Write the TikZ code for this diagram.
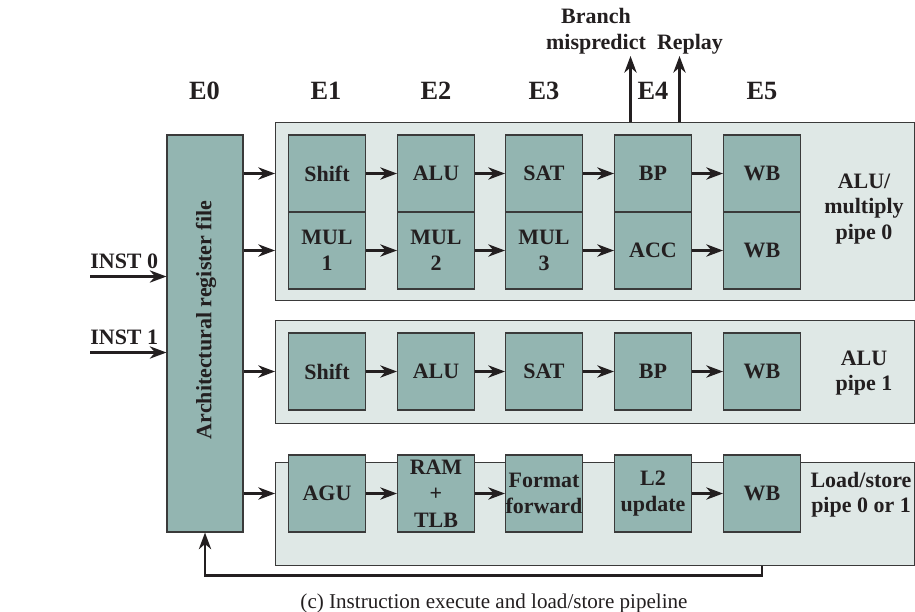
\documentclass[tikz,border=0pt]{standalone}
\usepackage{fontspec}
\setmainfont{Liberation Serif}
\usetikzlibrary{arrows.meta,positioning}
\definecolor{ink}{HTML}{231F20}
\definecolor{edge}{HTML}{3A3A3A}
\definecolor{sage}{HTML}{93B5B1}
\definecolor{mist}{HTML}{DFE8E6}

\begin{document}
\begin{tikzpicture}[x=0.2mm,y=-0.2mm,
          every node/.style={font=\fontsize{12.5}{15}\selectfont\bfseries,text=ink},
          stage/.style={rectangle,draw=edge,fill=sage,line width=.6pt,
              minimum width=1.54cm,minimum height=1.54cm,inner sep=0pt,align=center},
          pipe/.style={rectangle,draw=edge,fill=mist,line width=.6pt,anchor=north west,
              minimum width=12.78cm,inner sep=0pt},
          stagehead/.style={anchor=base,font=\fontsize{15}{18}\selectfont\bfseries},
          pipename/.style={anchor=base,align=center,font=\fontsize{12.5}{14.5}\selectfont\bfseries},
          flow/.style={-{Stealth[length=9.5pt,width=7pt,inset=3pt]},line width=1.4pt,draw=ink}]
        \useasboundingbox (0,0) rectangle (915,611);

        % pipeline backgrounds
        \node[pipe,minimum height=3.56cm] (pipeA) at (275,122) {};
        \node[pipe,minimum height=2.06cm] (pipeC) at (275,320) {};
        \node[pipe,minimum height=2.06cm] (pipeD) at (275,462) {};

        \node[stage,minimum width=1.52cm,minimum height=7.94cm] (regfile) at (205,333.5) {};
        \node[rotate=90] (reglbl) at (206,320) {Architectural register file};

        % ALU/multiply pipe 0
        \node[stage] (shiftA) at (327,173.5) {Shift};
        \node[stage] (aluA) at (436,173.5) {ALU};
        \node[stage] (satA) at (544,173.5) {SAT};
        \node[stage] (bpA) at (653,173.5) {BP};
        \node[stage] (wbA) at (762,173.5) {WB};
        \node[stage] (mulB1) at (327,250.5) {MUL\\1};
        \node[stage] (mulB2) at (436,250.5) {MUL\\2};
        \node[stage] (mulB3) at (544,250.5) {MUL\\3};
        \node[stage] (accB) at (653,250.5) {ACC};
        \node[stage] (wbB) at (762,250.5) {WB};

        % ALU pipe 1
        \node[stage] (shiftC) at (327,371.5) {Shift};
        \node[stage] (aluC) at (436,371.5) {ALU};
        \node[stage] (satC) at (544,371.5) {SAT};
        \node[stage] (bpC) at (653,371.5) {BP};
        \node[stage] (wbC) at (762,371.5) {WB};

        % load/store pipe
        \node[stage] (agu) at (327,493.5) {AGU};
        \node[stage] (ramtlb) at (436,493.5) {RAM\\+\\TLB};
        \node[stage] (fmt) at (544,493.5) {Format\\forward};
        \node[stage] (ltwo) at (653,493.5) {L2\\update};
        \node[stage] (wbD) at (762,493.5) {WB};

        \node[stagehead] (e0) at (204.5,99.5) {E0};
        \node[stagehead] (e1) at (326,99.5) {E1};
        \node[stagehead] (e2) at (436,99.5) {E2};
        \node[stagehead] (e3) at (544,99.5) {E3};
        \node[stagehead] (e4) at (653,99.5) {E4};
        \node[stagehead] (e5) at (762,99.5) {E5};

        \node[pipename] (lblA) at (864,239) {ALU/\\multiply\\pipe 0};
        \node[pipename] (lblC) at (864,390.5) {ALU\\pipe 1};
        \node[pipename] (lblD) at (861,512.5) {Load/store\\pipe 0 or 1};

        % inputs
        \node[anchor=base west,inner sep=0pt] (inst0) at (90,268) {INST 0};
        \node[anchor=base west,inner sep=0pt] (inst1) at (90,344) {INST 1};
        \coordinate (in0) at (90,276.5);
        \coordinate (in1) at (90,352.5);
        \draw[flow] (in0) -- (regfile.west |- in0);
        \draw[flow] (in1) -- (regfile.west |- in1);

        % register file to pipes
        \draw[flow] (regfile.east |- shiftA) -- (pipeA.west |- shiftA);
        \draw[flow] (regfile.east |- mulB1) -- (pipeA.west |- mulB1);
        \draw[flow] (regfile.east |- shiftC) -- (pipeC.west |- shiftC);
        \draw[flow] (regfile.east |- agu) -- (pipeD.west |- agu);

        \draw[flow] (shiftA) -- (aluA);
        \draw[flow] (aluA) -- (satA);
        \draw[flow] (satA) -- (bpA);
        \draw[flow] (bpA) -- (wbA);
        \draw[flow] (mulB1) -- (mulB2);
        \draw[flow] (mulB2) -- (mulB3);
        \draw[flow] (mulB3) -- (accB);
        \draw[flow] (accB) -- (wbB);
        \draw[flow] (shiftC) -- (aluC);
        \draw[flow] (aluC) -- (satC);
        \draw[flow] (satC) -- (bpC);
        \draw[flow] (bpC) -- (wbC);
        \draw[flow] (agu) -- (ramtlb);
        \draw[flow] (ramtlb) -- (fmt);
        \draw[flow] (ltwo) -- (wbD);

        % branch outputs
        \coordinate (mis) at (630.5,56);
        \coordinate (rep) at (679.5,56);
        \draw[flow] (mis |- pipeA.north) -- (mis);
        \draw[flow] (rep |- pipeA.north) -- (rep);
        \node[anchor=base,align=center] (mislbl) at (596,49.5) {Branch\\mispredict};
        \node[anchor=base] (replbl) at (690,49.5) {Replay};

        % write back to register file
        \draw[flow] (wbD.south |- pipeD.south) -- ++(0,9.5) -| (regfile.south);

        \node[anchor=base,font=\fontsize{12}{14}\selectfont] (caption) at (494,608)
          {(c) Instruction execute and load/store pipeline};
      \end{tikzpicture}
\end{document}
